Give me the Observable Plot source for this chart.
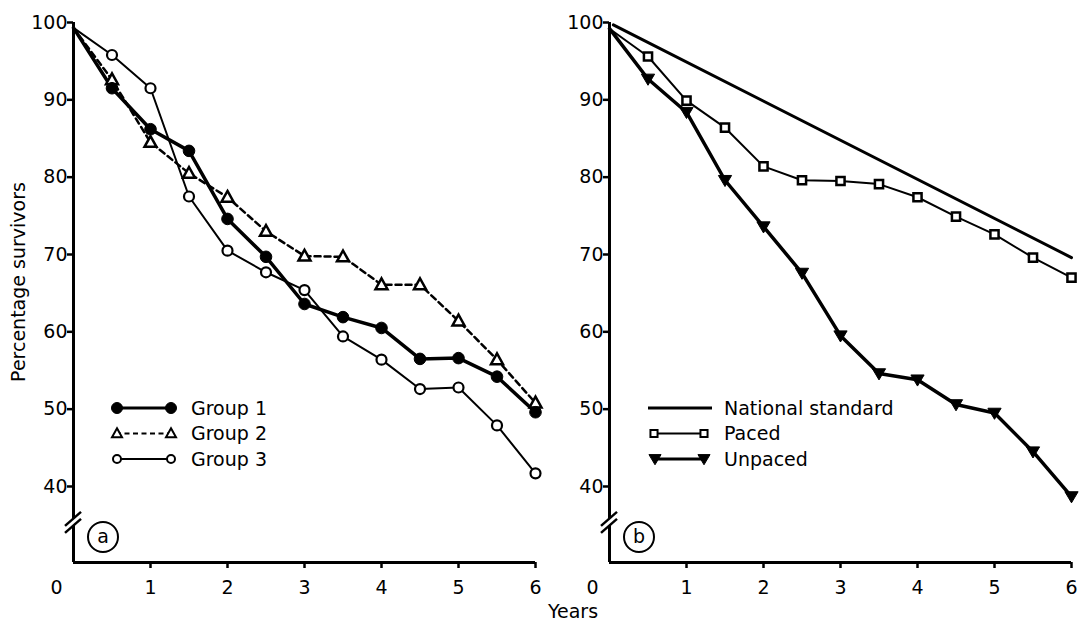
<!DOCTYPE html>
<html>
<head>
<meta charset="utf-8">
<script src="https://cdn.jsdelivr.net/npm/d3@7"></script>
<script src="https://cdn.jsdelivr.net/npm/@observablehq/plot@0.6"></script>
<style>
  body { margin: 0; background: #fff; }
  #wrap { position: relative; width: 1079px; height: 621px; overflow: hidden; background: #fff; }
  #wrap svg { position: absolute; top: 0; }
  #wrap svg [aria-label$="axis tick"] path, #wrap svg .tick line { stroke-width: 2.5px; }
</style>
</head>
<body>
<div id="wrap"></div>
<script>
// ---- data ----
const years = [0, 0.5, 1, 1.5, 2, 2.5, 3, 3.5, 4, 4.5, 5, 5.5, 6];
const group1 = [99.3, 91.5, 86.2, 83.4, 74.6, 69.7, 63.6, 61.9, 60.5, 56.5, 56.6, 54.2, 49.6];
const group2 = [99.3, 92.6, 84.5, 80.5, 77.4, 73.0, 69.8, 69.7, 66.1, 66.1, 61.4, 56.4, 50.8];
const group3 = [99.3, 95.8, 91.5, 77.5, 70.5, 67.7, 65.4, 59.4, 56.4, 52.6, 52.8, 47.9, 41.7];
const nationalYears = [0.05, 6];
const national = [99.7, 69.6];
const paced = [99.2, 95.6, 89.9, 86.4, 81.4, 79.6, 79.5, 79.1, 77.4, 74.9, 72.6, 69.6, 67.0];
const unpaced = [99.2, 92.7, 88.4, 79.6, 73.6, 67.6, 59.5, 54.6, 53.8, 50.6, 49.5, 44.5, 38.7];
const xTicks = [1, 2, 3, 4, 5, 6];
const yTicks = [40, 50, 60, 70, 80, 90, 100];
const legendA = ["Group 1", "Group 2", "Group 3"];
const legendB = ["National standard", "Paced", "Unpaced"];
const yLabel = "Percentage survivors";
const xLabel = "Years";
const yMin = 30.17, yMax = 100, yBreak = 35.3;

const FONT = "DejaVu Sans";
const toRows = (xs, ys) => xs.map((x, i) => ({x, y: ys[i]}));

const triUp = {draw(ctx, size) { const k = Math.sqrt(size / Math.PI);
  ctx.moveTo(0, -1.05 * k); ctx.lineTo(1.0 * k, 0.75 * k); ctx.lineTo(-1.0 * k, 0.75 * k); ctx.closePath(); }};
const triDown = {draw(ctx, size) { const k = Math.sqrt(size / Math.PI);
  ctx.moveTo(-1.1 * k, -0.8 * k); ctx.lineTo(1.1 * k, -0.8 * k); ctx.lineTo(0, 1.05 * k); ctx.closePath(); }};

function base(marks) {
  return Plot.plot({
    width: 549, height: 621,
    marginLeft: 73, marginRight: 14, marginTop: 22, marginBottom: 59,
    style: {fontFamily: FONT, fontSize: "19px", background: "transparent", color: "black"},
    x: {domain: [0, 6], ticks: xTicks, tickSize: 6, tickPadding: 12, tickFormat: d => String(d), label: null, line: false},
    y: {domain: [yMin, yMax], ticks: yTicks, tickSize: 6, tickPadding: 0, label: null, line: false},
    marks: [
      Plot.ruleX([0], {y1: yMin, y2: yMax, stroke: "black", strokeWidth: 3}),
      Plot.ruleY([yMin], {x1: 0, x2: 6, stroke: "black", strokeWidth: 3}),
      Plot.text(["0"], {x: 0, y: yMin, text: d => d, dx: -17, dy: 25, fontSize: 19}),
      ...marks
    ]
  });
}

function decorate(plot, letter, legendRows) {
  const svg = d3.select(plot);
  const sx = plot.scale("x"), sy = plot.scale("y");
  const ax = sx.apply(0), yb = sy.apply(yBreak);
  // axis break
  svg.append("polygon")
    .attr("points", `${ax - 3},${yb - 1} ${ax + 3},${yb - 6} ${ax + 3},${yb + 1} ${ax - 3},${yb + 6}`)
    .attr("fill", "white");
  [-3.5, 3.5].forEach(o => svg.append("line")
    .attr("x1", ax - 8).attr("y1", yb + o + 7).attr("x2", ax + 8).attr("y2", yb + o - 7)
    .attr("stroke", "black").attr("stroke-width", 2.5));
  // circled letter
  const cx = ax + 30, cy = sy.apply(33.4);
  svg.append("circle").attr("cx", cx).attr("cy", cy).attr("r", 15)
    .attr("fill", "white").attr("stroke", "black").attr("stroke-width", 2);
  svg.append("text").attr("x", cx).attr("y", cy).attr("dy", "0.33em")
    .attr("text-anchor", "middle").attr("font-size", 19).attr("font-family", FONT).text(letter);
  // legend
  legendRows.forEach((r, i) => {
    const y = 408 + i * 25.5;
    svg.append("line").attr("x1", r.x1).attr("x2", r.x2).attr("y1", y).attr("y2", y)
      .attr("stroke", "black").attr("stroke-width", r.sw).attr("stroke-dasharray", r.dash || null);
    if (r.sym) [r.x1 + 1, r.x2 - 1].forEach(mx => svg.append("path")
      .attr("d", d3.symbol().type(r.sym).size(r.r * r.r * Math.PI)())
      .attr("transform", `translate(${mx},${y})`)
      .attr("fill", r.fill).attr("stroke", "black").attr("stroke-width", r.fill === "black" ? 1 : 2));
    svg.append("text").attr("x", r.tx).attr("y", y).attr("dy", "0.36em")
      .attr("text-anchor", "start")
      .attr("font-size", 19).attr("font-family", FONT).text(r.label);
  });
  return svg;
}

const wrap = document.getElementById("wrap");

// ---- panel a ----
const g1 = toRows(years, group1), g2 = toRows(years, group2), g3 = toRows(years, group3);
const plotA = base([
  Plot.line(g2, {x: "x", y: "y", stroke: "black", strokeWidth: 2.5, strokeDasharray: "6,4"}),
  Plot.line(g3, {x: "x", y: "y", stroke: "black", strokeWidth: 2}),
  Plot.line(g1, {x: "x", y: "y", stroke: "black", strokeWidth: 3.5}),
  Plot.dot(g2.filter(d => d.x > 0), {x: "x", y: "y", symbol: triUp, r: 6, fill: "white", stroke: "black", strokeWidth: 2.5}),
  Plot.dot(g3.filter(d => d.x > 0), {x: "x", y: "y", symbol: "circle", r: 5, fill: "white", stroke: "black", strokeWidth: 2.2}),
  Plot.dot(g1.filter(d => d.x > 0), {x: "x", y: "y", symbol: "circle", r: 5.8, fill: "black", stroke: "black", strokeWidth: 1})
]);
plotA.style.left = "0px";
wrap.appendChild(plotA);
const svgA = decorate(plotA, "a", [
  {x1: 116, x2: 172, sw: 3, sym: d3.symbolCircle, r: 5.5, fill: "black", tx: 191, label: legendA[0]},
  {x1: 116, x2: 172, sw: 2, dash: "5,3.5", sym: triUp, r: 5, fill: "white", tx: 191, label: legendA[1]},
  {x1: 116, x2: 172, sw: 2, sym: d3.symbolCircle, r: 4, fill: "white", tx: 191, label: legendA[2]}
]);
svgA.append("text").attr("transform", "translate(18,282) rotate(-90)").attr("dy", "0.36em")
  .attr("text-anchor", "middle").attr("font-size", 19).attr("font-family", FONT).text(yLabel);

// ---- panel b ----
const ns = toRows(nationalYears, national), pc = toRows(years, paced), up = toRows(years, unpaced);
const plotB = base([
  Plot.line(ns, {x: "x", y: "y", stroke: "black", strokeWidth: 3}),
  Plot.line(pc, {x: "x", y: "y", stroke: "black", strokeWidth: 2}),
  Plot.line(up, {x: "x", y: "y", stroke: "black", strokeWidth: 3.5}),
  Plot.dot(pc.filter(d => d.x > 0), {x: "x", y: "y", symbol: "square", r: 4.6, fill: "white", stroke: "black", strokeWidth: 2.5}),
  Plot.dot(up.filter(d => d.x > 0), {x: "x", y: "y", symbol: triDown, r: 6, fill: "black", stroke: "black", strokeWidth: 1})
]);
plotB.style.left = "536px";
wrap.appendChild(plotB);
const svgB = decorate(plotB, "b", [
  {x1: 112, x2: 176, sw: 3, tx: 188, label: legendB[0]},
  {x1: 117, x2: 169, sw: 2, sym: d3.symbolSquare, r: 4, fill: "white", tx: 188, label: legendB[1]},
  {x1: 118, x2: 169, sw: 3, sym: triDown, r: 5.5, fill: "black", tx: 188, label: legendB[2]}
]);
svgB.append("text").attr("x", 37).attr("y", 611).attr("dy", "0.36em")
  .attr("text-anchor", "middle").attr("font-size", 19).attr("font-family", FONT).text(xLabel);
</script>
</body>
</html>
